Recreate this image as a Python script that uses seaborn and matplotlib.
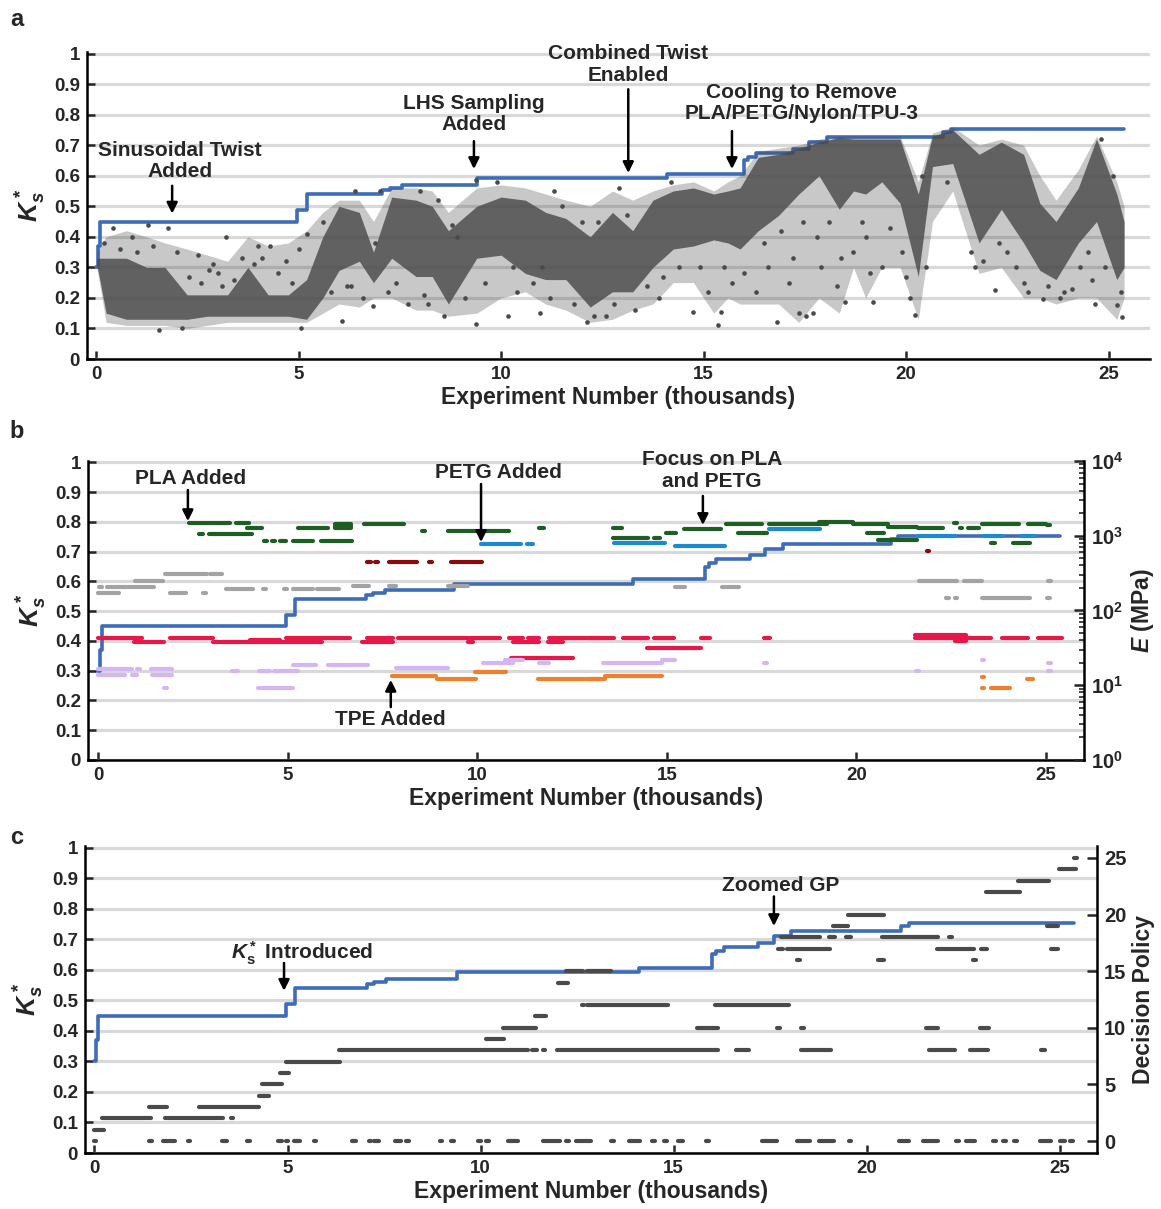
import numpy as np
import pandas as pd
import matplotlib
matplotlib.use("Agg")
import matplotlib.pyplot as plt
import seaborn as sns

sns.set_style("white")
plt.rcParams["font.family"] = ["Liberation Sans", "DejaVu Sans"]
plt.rcParams["font.weight"] = "bold"
plt.rcParams["axes.labelweight"] = "bold"
plt.rcParams["mathtext.fontset"] = "custom"
plt.rcParams["mathtext.rm"] = "Liberation Sans:bold"
plt.rcParams["mathtext.it"] = "Liberation Sans:bold:italic"
plt.rcParams["mathtext.bf"] = "Liberation Sans:bold"

# ---------------- data ----------------
# best-so-far K_s* (thousands of experiments)
best_x = [0, 0.05, 0.1, 4.95, 5.2, 7.07, 7.25, 7.56, 9.4, 14.1, 16.0, 16.1, 16.3, 17.2, 17.6, 18.05, 20.9, 21.1, 25.38]
best_k = [0.30, 0.37, 0.45, 0.487, 0.541, 0.553, 0.561, 0.571, 0.593, 0.607, 0.65, 0.661, 0.674, 0.688, 0.71, 0.727, 0.743, 0.754, 0.754]

# panel a: density envelope of all experiments (read per region)
band_x = [0.02, 0.25, 0.75, 1.25, 1.7, 2.25, 2.75, 3.25, 3.75, 4.25, 4.75, 5.2, 5.6, 6.0, 6.5, 6.85,
          7.3, 7.9, 8.3, 8.7, 9.4, 10.0, 10.6, 11.1, 11.6, 12.2, 12.75, 13.25, 13.75, 14.25, 14.75,
          15.25, 15.6, 15.9, 16.35, 16.85, 17.35, 17.85, 18.35, 18.7, 19.0, 19.4, 19.85, 20.3, 20.65,
          21.15, 21.8, 22.35, 22.9, 23.3, 23.7, 24.25, 24.7, 25.2, 25.38]
outer_lo = [0.30, 0.12, 0.11, 0.11, 0.11, 0.10, 0.11, 0.12, 0.12, 0.12, 0.12, 0.12, 0.15, 0.18, 0.17, 0.20,
            0.20, 0.16, 0.16, 0.14, 0.15, 0.20, 0.22, 0.18, 0.16, 0.12, 0.13, 0.16, 0.18, 0.25, 0.25,
            0.15, 0.20, 0.18, 0.18, 0.18, 0.12, 0.20, 0.15, 0.30, 0.20, 0.30, 0.30, 0.13, 0.45,
            0.55, 0.28, 0.30, 0.20, 0.20, 0.18, 0.20, 0.20, 0.13, 0.20]
core_lo = [0.31, 0.15, 0.13, 0.13, 0.13, 0.13, 0.14, 0.14, 0.14, 0.14, 0.14, 0.13, 0.20, 0.29, 0.32, 0.25,
           0.33, 0.27, 0.27, 0.18, 0.33, 0.34, 0.28, 0.26, 0.26, 0.17, 0.22, 0.22, 0.30, 0.36, 0.37,
           0.39, 0.38, 0.36, 0.42, 0.47, 0.54, 0.60, 0.49, 0.55, 0.54, 0.58, 0.51, 0.27, 0.63,
           0.64, 0.38, 0.49, 0.38, 0.29, 0.26, 0.38, 0.45, 0.26, 0.30]
core_hi = [0.33, 0.33, 0.33, 0.30, 0.30, 0.21, 0.21, 0.21, 0.30, 0.21, 0.21, 0.26, 0.40, 0.50, 0.48, 0.35,
           0.53, 0.52, 0.50, 0.42, 0.50, 0.53, 0.52, 0.48, 0.46, 0.40, 0.48, 0.42, 0.52, 0.55, 0.56,
           0.54, 0.55, 0.56, 0.66, 0.67, 0.69, 0.71, 0.725, 0.72, 0.72, 0.72, 0.72, 0.54, 0.73,
           0.75, 0.67, 0.71, 0.67, 0.51, 0.45, 0.56, 0.72, 0.54, 0.45]
outer_hi = [0.35, 0.40, 0.42, 0.40, 0.38, 0.36, 0.34, 0.32, 0.40, 0.37, 0.38, 0.42, 0.48, 0.52, 0.52, 0.45,
            0.56, 0.56, 0.55, 0.48, 0.56, 0.57, 0.56, 0.54, 0.52, 0.50, 0.55, 0.52, 0.55, 0.57, 0.58,
            0.55, 0.58, 0.60, 0.68, 0.69, 0.70, 0.72, 0.73, 0.73, 0.73, 0.73, 0.73, 0.58, 0.74,
            0.76, 0.70, 0.72, 0.70, 0.60, 0.52, 0.62, 0.73, 0.58, 0.50]
# panel a: individual scattered experiments
pts_x = [0.42, 1.28, 1.78, 1.56, 2.12, 3.22, 2.9, 2.53, 0.9, 4.3, 4.1, 5.0, 5.2, 5.05, 6.07, 6.83, 6.6, 7.0,
         7.4, 8.0, 8.2, 8.6, 9.37, 9.38, 9.9, 10.18, 10.4, 10.96, 11.3, 11.8, 12.11, 12.6, 12.9, 13.3,
         13.9, 14.2, 14.73, 15.35, 15.44, 15.1, 15.7, 16.3, 16.81, 16.6, 17.35, 17.54, 17.7, 17.2, 17.9,
         18.3, 18.5, 18.7, 19.18, 19.4, 19.0, 20.21, 20.0, 20.4, 21.0, 21.7, 22.2, 22.5, 22.9, 23.37,
         23.8, 24.1, 24.65, 24.6, 25.2, 25.34, 25.1, 24.8, 3.0, 2.0, 11.0, 12.4, 8.9, 6.3, 20.1,
         0.2, 0.6, 1.0, 1.4, 2.3, 2.6, 2.8, 3.1, 3.4, 3.6, 3.9, 4.0, 4.5, 4.7, 4.85,
         5.6, 5.8, 6.2, 6.4, 6.9, 7.2, 7.7, 8.1, 8.45, 8.8, 9.1, 9.6, 10.3, 10.8, 11.2, 11.5, 12.0,
         12.3, 12.8, 13.1, 13.6, 14.0, 14.4, 14.9, 15.5,
         16.0, 16.5, 16.9, 17.1, 17.45, 17.8, 18.1, 18.4, 18.9, 19.1, 19.6, 19.9, 20.5, 21.6, 21.9,
         22.3, 22.7, 23.0, 23.5, 23.9, 24.3, 24.5, 24.9, 25.3]
pts_y = [0.43, 0.44, 0.43, 0.095, 0.10, 0.40, 0.31, 0.34, 0.40, 0.37, 0.33, 0.36, 0.41, 0.10, 0.125, 0.175,
         0.20, 0.55, 0.25, 0.55, 0.18, 0.14, 0.115, 0.585, 0.58, 0.14, 0.22, 0.15, 0.55, 0.18, 0.12, 0.14,
         0.56, 0.16, 0.20, 0.58, 0.155, 0.11, 0.155, 0.22, 0.25, 0.22, 0.12, 0.30, 0.15, 0.14, 0.15, 0.33,
         0.30, 0.24, 0.185, 0.35, 0.185, 0.30, 0.40, 0.145, 0.27, 0.60, 0.58, 0.30, 0.226, 0.35, 0.25,
         0.196, 0.20, 0.23, 0.18, 0.26, 0.177, 0.136, 0.60, 0.72, 0.28, 0.35, 0.30, 0.45, 0.40, 0.24, 0.20,
         0.38, 0.36, 0.35, 0.37, 0.27, 0.25, 0.29, 0.24, 0.26, 0.33, 0.31, 0.37, 0.28, 0.32, 0.25,
         0.45, 0.22, 0.24, 0.55, 0.38, 0.22, 0.18, 0.21, 0.52, 0.44, 0.20, 0.25, 0.30, 0.25, 0.20, 0.50, 0.45,
         0.14, 0.18, 0.47, 0.24, 0.27, 0.30, 0.30, 0.30,
         0.28, 0.38, 0.42, 0.25, 0.45, 0.40, 0.45, 0.33, 0.45, 0.28, 0.43, 0.35, 0.30, 0.35, 0.32,
         0.38, 0.30, 0.22, 0.24, 0.22, 0.30, 0.35, 0.30, 0.22]

# panel b: Young's modulus E (MPa) runs per material: start, end (thousands), E
pla_x0 = [2.41, 3.64, 3.94, 5.28, 6.25, 6.25, 6.25, 2.65, 2.93, 4.38, 4.61, 4.8, 5.13, 5.87, 7.02, 8.57, 9.23,
          11.64, 13.58, 13.58, 14.66, 14.97, 15.46, 16.56, 17.69, 19.02, 19.9, 20.82, 21.63, 22.74, 22.93,
          23.32, 24.52, 16.88, 20.29, 20.56, 23.56, 24.13, 22.6, 25.05]
pla_x1 = [3.48, 3.99, 4.32, 6.07, 6.68, 6.68, 6.68, 2.76, 4.05, 4.45, 4.64, 4.97, 5.66, 6.71, 8.06, 8.6, 10.85,
          11.75, 13.83, 14.5, 14.81, 15.24, 16.44, 17.5, 19.23, 19.9, 20.82, 21.59, 22.29, 22.77, 23.22,
          24.28, 25.0, 17.64, 20.72, 21.59, 23.65, 24.57, 22.63, 25.08]
pla_e = [1486, 1486, 1259, 1259, 1259, 1340, 1419, 1057, 1057, 855, 855, 855, 855, 855, 1419, 1159, 1159,
         1259, 1259, 946, 946, 1096, 1225, 1419, 1419, 1528, 1419, 1318, 1259, 1259, 1259,
         1445, 1445, 1096, 1096, 879, 809, 809, 1500, 1400]
petg_x0 = [10.09, 11.32, 13.61, 15.21, 17.69, 21.63, 23.37, 24.33]
petg_x1 = [11.16, 11.46, 14.95, 16.54, 19.04, 22.6, 23.85, 24.71]
petg_e = [787, 787, 794, 724, 1247, 1000, 1000, 1000]
nylon_x0 = [7.1, 7.33, 7.67, 8.75, 9.32, 21.88]
nylon_x1 = [7.2, 7.36, 8.41, 8.78, 10.13, 21.9]
nylon_e = [441, 441, 441, 441, 441, 631]
gray_x0 = [1.77, 2.96, 0.98, 0.02, 0.25, 3.37, 4.37, 4.93, 5.15, 5.78, 6.73, 7.67, 9.23, 0.0, 1.9, 2.8,
           15.21, 16.46, 21.66, 22.84, 25.08, 22.38, 22.61, 23.32, 25.05]
gray_x1 = [2.87, 3.26, 1.71, 0.11, 1.48, 4.1, 4.4, 4.96, 5.68, 6.36, 7.15, 7.87, 9.75, 0.56, 2.32, 2.83,
           15.48, 16.9, 22.64, 23.3, 25.11, 22.41, 22.64, 24.57, 25.08]
gray_e = [308, 308, 249, 209, 209, 192, 192, 192, 192, 192, 213, 213, 213, 171, 171, 171,
          209, 209, 251, 251, 251, 146, 146, 146, 146]
tpu_x0 = [0.0, 1.9, 4.97, 7.08, 7.91, 9.8, 10.85, 11.33, 11.9, 0.94, 3.04, 4.8, 6.95, 9.75, 10.94, 11.86,
          4.0, 10.9, 12.98, 13.85, 14.66, 15.91, 17.55, 21.54, 23.85, 24.79, 21.54, 22.6, 14.47]
tpu_x1 = [1.16, 3.04, 6.64, 7.78, 9.75, 10.59, 11.2, 11.64, 13.22, 1.73, 4.8, 5.9, 7.78, 9.9, 11.64, 12.25,
          4.8, 12.52, 13.61, 14.5, 15.19, 16.15, 17.71, 23.56, 24.52, 25.43, 22.9, 22.9, 15.91]
tpu_e = [42.9, 42.9, 42.9, 42.9, 42.9, 42.9, 42.9, 42.9, 42.9, 37.7, 37.7, 37.7, 37.7, 37.7, 37.7, 37.7,
         40.0, 23.1, 42.9, 42.9, 42.9, 42.9, 42.9, 42.9, 42.9, 42.9, 47.0, 39.5, 31.3]
lav_x0 = [0.0, 1.04, 1.39, 0.0, 0.89, 1.42, 1.77, 4.23, 3.53, 4.25, 4.65, 5.15, 6.07, 7.87, 10.15, 10.72,
          11.64, 13.32, 14.86, 17.58, 23.32, 25.08, 21.59, 25.08]
lav_x1 = [0.89, 1.1, 1.95, 0.72, 1.03, 1.95, 1.8, 5.13, 3.7, 4.54, 5.28, 5.76, 7.12, 9.23, 10.94, 11.2,
          11.9, 14.88, 15.21, 17.61, 23.35, 25.11, 21.62, 25.11]
lav_e = [16.3, 16.3, 16.3, 13.8, 13.8, 13.8, 9.2, 9.2, 15.3, 15.3, 15.3, 18.7, 18.7, 16.9, 20.1, 21.7,
         19.9, 19.7, 21.9, 19.7, 21.9, 19.7, 15.6, 15.6]
tpe_x0 = [7.75, 8.94, 9.93, 11.6, 12.98, 13.38, 23.32, 23.32, 23.56, 24.5]
tpe_x1 = [8.92, 9.97, 10.75, 13.22, 13.38, 14.88, 23.35, 23.35, 24.04, 24.66]
tpe_e = [13.5, 12.2, 15.1, 12.0, 12.0, 13.5, 13.0, 9.1, 9.1, 12.0]

# panel c: decision policy runs: start, end (thousands), policy index
pol_x0 = [0, 1.43, 1.78, 2.43, 3.31, 3.98, 4.75, 4.97, 5.17, 5.7, 6.68, 7.12, 7.25, 7.78, 8.1, 8.96, 9.26,
          9.95, 10.15, 10.71, 11.63, 12.24, 12.48, 13.4, 13.84, 14.47, 14.77, 15.12, 15.87, 17.3, 18.21,
          18.77, 19.56, 20.84, 21.47, 22.35, 22.58, 23.3, 23.56, 23.84, 24.49, 25.02, 25.3,
          0.0, 0.2, 1.82, 3.55, 1.4, 2.7, 4.25, 4.33, 4.8, 4.97,
          6.33, 11.34, 11.63, 11.98, 16.61, 18.3, 21.63, 22.67, 24.52, 10.14,
          10.58, 15.62, 17.7, 18.32, 21.54, 22.93, 11.41, 12.64, 12.77, 16.07, 12.0, 12.22, 12.77,
          18.23, 20.3, 22.75, 17.7, 17.93, 21.82, 22.97, 24.77, 17.79, 19.02, 19.47, 20.4, 22.16,
          19.12, 24.67, 19.53, 23.09, 23.93, 24.98, 25.39]
pol_x1 = [0.05, 1.46, 2.08, 2.46, 3.42, 4.01, 4.85, 5.0, 5.32, 5.73, 6.77, 7.15, 7.38, 7.95, 8.13, 8.99, 9.29,
          9.98, 10.19, 10.97, 12.05, 12.27, 12.86, 13.43, 14.12, 14.5, 14.8, 15.25, 15.9, 17.67, 18.53,
          19.16, 19.59, 21.09, 21.86, 22.38, 22.81, 23.33, 23.59, 23.87, 24.79, 25.13, 25.33,
          0.25, 1.47, 3.33, 3.58, 1.89, 4.27, 4.52, 4.86, 5.03, 6.36,
          11.23, 11.46, 11.66, 16.16, 16.95, 19.07, 22.28, 23.14, 24.63, 10.6,
          11.45, 16.14, 17.73, 18.35, 21.84, 23.16, 11.7, 12.67, 14.86, 17.98, 12.27, 12.65, 13.37,
          18.26, 20.44, 22.84, 17.84, 19.05, 22.79, 23.12, 24.95, 18.79, 19.17, 19.59, 21.84, 22.19,
          19.51, 24.95, 20.44, 23.98, 24.72, 25.42, 25.42]
pol_lvl = [0] * 43 + [1, 2, 2, 2, 3, 3, 4, 5, 6, 7,
                      8, 8, 8, 8, 8, 8, 8, 8, 8, 9,
                      10, 10, 10, 10, 10, 10, 11, 12, 12, 12, 14, 15, 15,
                      16, 16, 16, 17, 17, 17, 17, 17, 18, 18, 18, 18, 18,
                      19, 19, 20, 22, 23, 24, 25]

# ---------------- styling ----------------
W, H = 1161, 1209
BLUE = "#3d6cb9"
DARK = "#4a4a4a"
GRID = "#d9d9d9"
TICK_FS = 13.5
LAB_FS = 16.5
ANN_FS = 15

fig = plt.figure(figsize=(W / 100, H / 100), dpi=100)


def rect(l, r, t, b):
    return [l / W, 1 - b / H, (r - l) / W, (b - t) / H]


def style_primary(ax, xlim):
    ax.set_xlim(*xlim)
    ax.set_ylim(0, 1.005)
    ax.set_yticks(np.round(np.arange(0, 1.01, 0.1), 1))
    ax.set_yticklabels(["0"] + [f"{v:.1f}" for v in np.arange(0.1, 0.95, 0.1)] + ["1"])
    ax.set_xticks([0, 5, 10, 15, 20, 25])
    ax.set_xticklabels(["0", "5", "10", "15", "20", "25"])
    ax.yaxis.grid(True, color=GRID, lw=2.3)
    ax.xaxis.grid(False)
    ax.set_axisbelow(True)
    for s in ["top", "right"]:
        ax.spines[s].set_visible(False)
    for s in ["left", "bottom"]:
        ax.spines[s].set_linewidth(1.8)
        ax.spines[s].set_color("black")
    ax.tick_params(axis="both", direction="in", length=6, width=1.8, labelsize=TICK_FS,
                   left=True, bottom=True, pad=5)
    ax.set_xlabel("Experiment Number (thousands)", fontsize=LAB_FS, fontweight="bold", labelpad=2)
    ax.set_ylabel(r"$K_s^*$", fontsize=LAB_FS + 2.5, labelpad=4)


def best_line(ax):
    sns.lineplot(x=best_x, y=best_k, ax=ax, color=BLUE, lw=2.6, drawstyle="steps-post",
                 estimator=None, sort=False, zorder=3)


def arrow(ax, x, y_tail, y_tip):
    ax.annotate("", xy=(x, y_tip), xytext=(x, y_tail),
                arrowprops=dict(arrowstyle="-|>", color="black", lw=1.8, mutation_scale=16,
                                shrinkA=0, shrinkB=0), zorder=6)


def label(ax, x, y, txt):
    ax.text(x, y, txt, ha="center", va="center", fontsize=ANN_FS, fontweight="bold",
            linespacing=1.15, zorder=6)


def seg_frame(x0, x1, yv, name):
    rows = []
    for i, (a, b, y) in enumerate(zip(x0, x1, yv)):
        a2, b2 = (a - 0.02, b + 0.02) if b - a < 0.05 else (a, b)
        rows.append((f"{name}{i}", a2, y, name))
        rows.append((f"{name}{i}", b2, y, name))
    return pd.DataFrame(rows, columns=["seg", "x", "y", "mat"])


# ---------------- panel a ----------------
axa = fig.add_axes(rect(87, 1150, 52, 359))
style_primary(axa, (-0.222, 26.02))
best_line(axa)
axa.fill_between(band_x, outer_lo, outer_hi, color=DARK, alpha=0.3, lw=0, zorder=4)
axa.fill_between(band_x, core_lo, core_hi, color=DARK, alpha=0.82, lw=0, zorder=4)
sns.scatterplot(x=pts_x, y=pts_y, ax=axa, color=DARK, s=11, linewidth=0, zorder=5)
label(axa, 2.07, 0.648, "Sinusoidal Twist\nAdded")
arrow(axa, 1.88, 0.567, 0.476)
label(axa, 9.33, 0.803, "LHS Sampling\nAdded")
arrow(axa, 9.33, 0.713, 0.622)
label(axa, 13.14, 0.964, "Combined Twist\nEnabled")
arrow(axa, 13.14, 0.883, 0.609)
label(axa, 17.41, 0.839, "Cooling to Remove\nPLA/PETG/Nylon/TPU-3")
arrow(axa, 15.7, 0.746, 0.622)

# ---------------- panel b ----------------
axb = fig.add_axes(rect(88, 1084, 461, 760))
style_primary(axb, (-0.264, 26.0))
best_line(axb)
axb2 = axb.twinx()
axb2.set_yscale("log")
axb2.set_ylim(1, 1e4)
mat_df = pd.concat([
    seg_frame(tpu_x0, tpu_x1, tpu_e, "TPU"),
    seg_frame(lav_x0, lav_x1, lav_e, "LAV"),
    seg_frame(tpe_x0, tpe_x1, tpe_e, "TPE"),
    seg_frame(gray_x0, gray_x1, gray_e, "GRAY"),
    seg_frame(nylon_x0, nylon_x1, nylon_e, "NYLON"),
    seg_frame(pla_x0, pla_x1, pla_e, "PLA"),
    seg_frame(petg_x0, petg_x1, petg_e, "PETG"),
], ignore_index=True)
pal = {"PLA": "#1d5e22", "PETG": "#1b8bd0", "NYLON": "#8b0a0a", "GRAY": "#a3a3a3",
       "TPU": "#e8174a", "LAV": "#d3b6f3", "TPE": "#f27f2c"}
sns.lineplot(data=mat_df, x="x", y="y", hue="mat", units="seg", estimator=None, palette=pal,
             lw=3.0, sort=False, legend=False, ax=axb2, solid_capstyle="round")
axb2.set_xlim(-0.264, 26.0)
axb2.set_yticks([1, 10, 100, 1000, 10000])
axb2.set_yticklabels([r"$\mathbf{10^{0}}$", r"$\mathbf{10^{1}}$", r"$\mathbf{10^{2}}$",
                      r"$\mathbf{10^{3}}$", r"$\mathbf{10^{4}}$"])
for s in ["top", "left", "bottom"]:
    axb2.spines[s].set_visible(False)
axb2.spines["right"].set_linewidth(1.8)
axb2.spines["right"].set_color("black")
axb2.tick_params(axis="y", which="major", direction="in", length=7, width=1.8, labelsize=TICK_FS + 1,
                 right=True, pad=5)
axb2.tick_params(axis="y", which="minor", direction="in", length=3.5, width=1.2, right=True)
axb2.set_ylabel(r"$E$ (MPa)", fontsize=LAB_FS, fontweight="bold", labelpad=4)
axb2.grid(False)
label(axb2, 2.45, 10 ** (4 * 0.94), "PLA Added")
arrow(axb2, 2.37, 10 ** (4 * 0.903), 10 ** (4 * 0.799))
label(axb2, 10.57, 10 ** (4 * 0.96), "PETG Added")
arrow(axb2, 10.1, 10 ** (4 * 0.923), 10 ** (4 * 0.729))
label(axb2, 16.19, 10 ** (4 * 0.968), "Focus on PLA\nand PETG")
arrow(axb2, 15.95, 10 ** (4 * 0.883), 10 ** (4 * 0.786))
label(axb2, 7.72, 10 ** (4 * 0.137), "TPE Added")
arrow(axb2, 7.72, 10 ** (4 * 0.177), 10 ** (4 * 0.268))

# ---------------- panel c ----------------
axc = fig.add_axes(rect(85, 1097, 846, 1153))
style_primary(axc, (-0.246, 25.97))
best_line(axc)
axc2 = axc.twinx()
pol_df = seg_frame(pol_x0, pol_x1, pol_lvl, "P")
sns.lineplot(data=pol_df, x="x", y="y", units="seg", estimator=None, color=DARK,
             lw=3.0, sort=False, legend=False, ax=axc2, solid_capstyle="round")
axc2.set_xlim(-0.246, 25.97)
axc2.set_ylim(-1.06, 26.06)
axc2.set_yticks([0, 5, 10, 15, 20, 25])
axc2.set_yticklabels(["0", "5", "10", "15", "20", "25"])
for s in ["top", "left", "bottom"]:
    axc2.spines[s].set_visible(False)
axc2.spines["right"].set_linewidth(1.8)
axc2.spines["right"].set_color("black")
axc2.tick_params(axis="y", direction="in", length=7, width=1.8, labelsize=TICK_FS + 1, right=True, pad=5)
axc2.set_ylabel("Decision Policy", fontsize=LAB_FS, fontweight="bold", labelpad=4)
axc2.grid(False)
label(axc, 5.38, 0.655, r"$K_\mathregular{s}^*$ Introduced")
arrow(axc, 4.91, 0.622, 0.531)
label(axc, 17.78, 0.876, "Zoomed GP")
arrow(axc, 17.6, 0.84, 0.743)

for letter, ypx in [("a", 20), ("b", 432), ("c", 838)]:
    fig.text(17 / W, 1 - ypx / H, letter, fontsize=17, fontweight="bold", ha="center", va="center")

fig.savefig("out.png", dpi=100)
